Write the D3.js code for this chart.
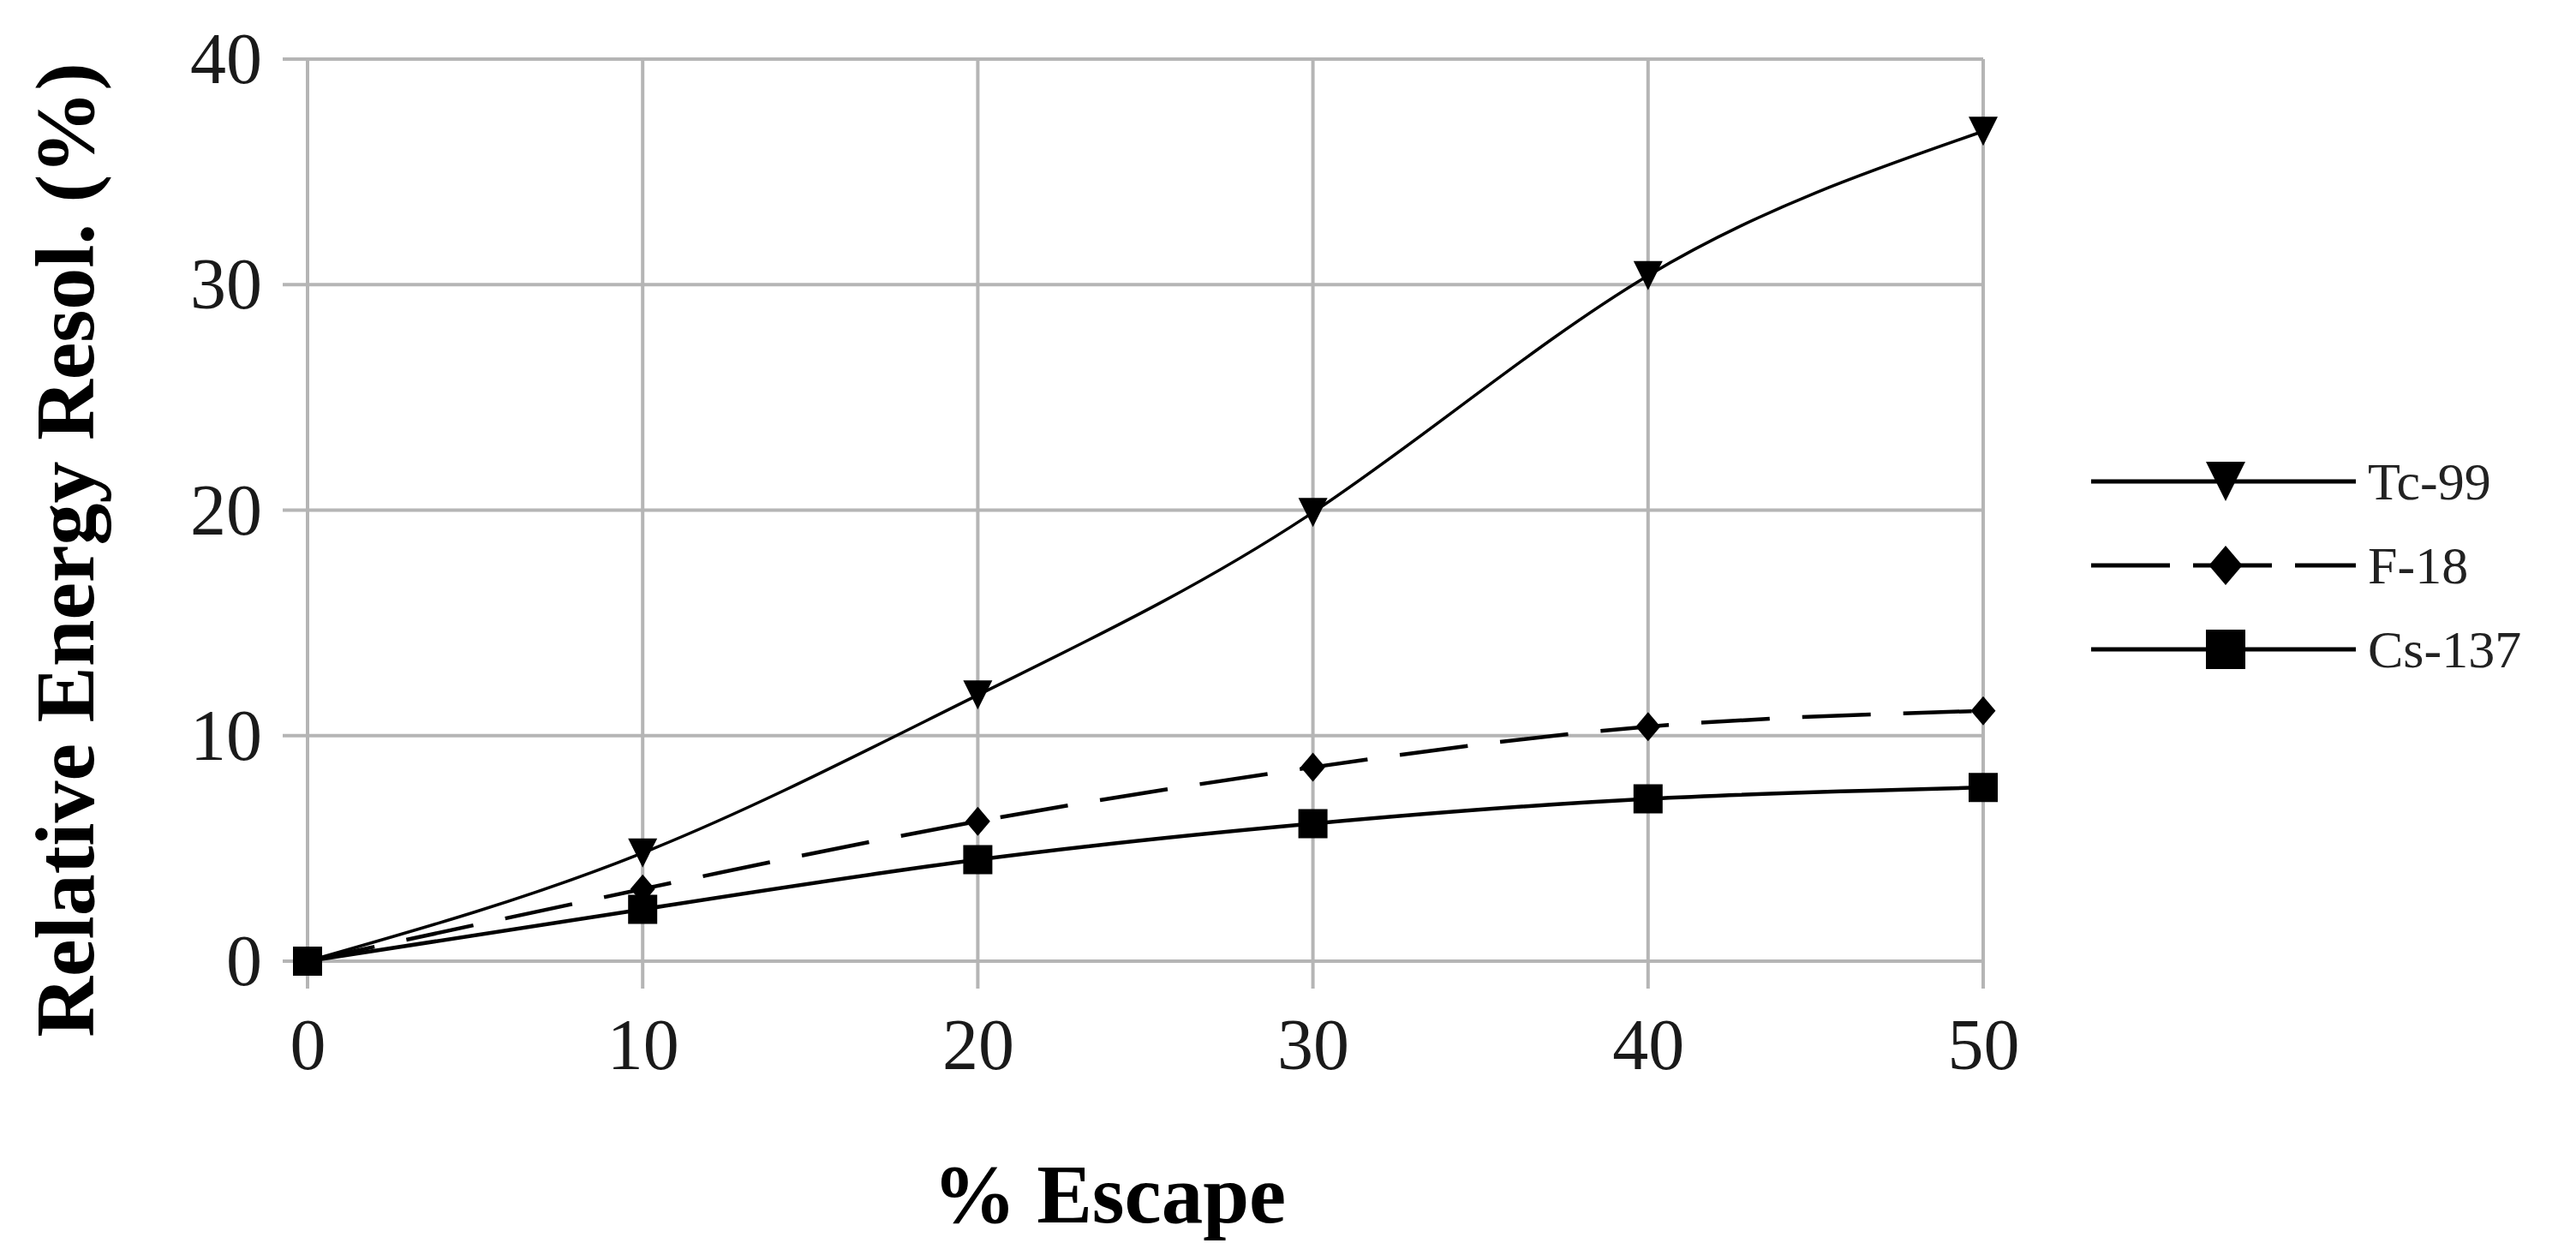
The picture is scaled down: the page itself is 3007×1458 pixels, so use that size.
<!DOCTYPE html>
<html>
<head>
<meta charset="utf-8">
<script src="https://cdn.jsdelivr.net/npm/d3@7"></script>
<style>
  html, body { margin: 0; padding: 0; background: #fff; }
  svg { display: block; }
</style>
</head>
<body>
<svg id="chart" width="3007" height="1458"></svg>
<script>
// ---- data ----
const escape = [0, 10, 20, 30, 40, 50];
const tc99 = [0, 4.8, 11.8, 19.9, 30.4, 36.8];
const f18 = [0, 3.2, 6.2, 8.6, 10.4, 11.1];
const cs137 = [0, 2.3, 4.5, 6.1, 7.2, 7.7];
const seriesNames = ["Tc-99", "F-18", "Cs-137"];
const xTicks = [0, 10, 20, 30, 40, 50];
const yTicks = [0, 10, 20, 30, 40];
const xTitle = "% Escape";
const yTitle = "Relative Energy Resol. (%)";

(function () {
// ---- layout ----
const svg = d3.select("#chart");
const pLeft = 359, pRight = 2315, pTop = 69, pBottom = 1122;
const x = d3.scaleLinear().domain([0, 50]).range([pLeft, pRight]);
const y = d3.scaleLinear().domain([0, 40]).range([pBottom, pTop]);
const gridColor = "#b5b5b5";
const serif = "'Liberation Serif', 'Times New Roman', serif";

// grid lines + outer ticks
const grid = svg.append("g");
grid.selectAll("line.h").data(yTicks).join("line")
  .attr("class", "h")
  .attr("x1", pLeft - 29).attr("x2", pRight)
  .attr("y1", d => y(d)).attr("y2", d => y(d))
  .attr("stroke", gridColor).attr("stroke-width", 4);
grid.selectAll("line.v").data(xTicks).join("line")
  .attr("class", "v")
  .attr("x1", d => x(d)).attr("x2", d => x(d))
  .attr("y1", pTop).attr("y2", pBottom + 32)
  .attr("stroke", gridColor).attr("stroke-width", 4);

// tick labels via axes (no domain/tick lines)
const tickFont = 84;
const xAxis = svg.append("g")
  .attr("transform", `translate(0,${pBottom})`)
  .call(d3.axisBottom(x).tickValues(xTicks).tickSize(0).tickPadding(0).tickFormat(d3.format("d")));
xAxis.select(".domain").remove();
xAxis.selectAll("text")
  .attr("y", 126).attr("dy", 0)
  .attr("font-family", serif).attr("font-size", tickFont).attr("fill", "#1a1a1a");

const yAxis = svg.append("g")
  .attr("transform", `translate(${pLeft},0)`)
  .call(d3.axisLeft(y).tickValues(yTicks).tickSize(0).tickPadding(0).tickFormat(d3.format("d")));
yAxis.select(".domain").remove();
yAxis.selectAll("text")
  .attr("x", -53).attr("dy", "0.33em")
  .attr("font-family", serif).attr("font-size", tickFont).attr("fill", "#1a1a1a");

// axis titles
svg.append("text")
  .attr("x", 1295).attr("y", 1427)
  .attr("text-anchor", "middle")
  .attr("font-family", serif).attr("font-weight", "bold").attr("font-size", 97)
  .attr("fill", "#000")
  .text(xTitle);
svg.append("text")
  .attr("transform", `translate(109,${642}) rotate(-90)`)
  .attr("text-anchor", "middle")
  .attr("font-family", serif).attr("font-weight", "bold").attr("font-size", 98)
  .attr("fill", "#000")
  .text(yTitle);

// ---- series ----
const series = [
  { name: seriesNames[0], values: tc99, dash: null, width: 3.5, marker: "triangle" },
  { name: seriesNames[1], values: f18, dash: "80,38", width: 4.5, marker: "diamond" },
  { name: seriesNames[2], values: cs137, dash: null, width: 4.5, marker: "square" }
];

const line = d3.line().x(d => x(d[0])).y(d => y(d[1])).curve(d3.curveNatural);

function markerPath(type, s) {
  const h = s / 2;
  if (type === "triangle") return `M${-h},${-h}L${h},${-h}L0,${h}Z`;
  if (type === "diamond") return `M0,${-h}L${h * 0.85},0L0,${h}L${-h * 0.85},0Z`;
  return `M${-h},${-h}L${h},${-h}L${h},${h}L${-h},${h}Z`;
}

series.forEach(s => {
  const pts = escape.map((e, i) => [e, s.values[i]]);
  svg.append("path")
    .attr("d", line(pts))
    .attr("fill", "none").attr("stroke", "#000")
    .attr("stroke-width", s.width)
    .attr("stroke-dasharray", s.dash);
  svg.append("g").selectAll("path").data(pts).join("path")
    .attr("transform", d => `translate(${x(d[0])},${y(d[1])})`)
    .attr("d", markerPath(s.marker, 34))
    .attr("fill", "#000");
});

// ---- legend ----
const legend = svg.append("g");
const rowY = [562, 660, 758];
series.forEach((s, i) => {
  const g = legend.append("g").attr("transform", `translate(0,${rowY[i]})`);
  g.append("line")
    .attr("x1", 2441).attr("x2", 2750).attr("y1", 0).attr("y2", 0)
    .attr("stroke", "#000").attr("stroke-width", 5)
    .attr("stroke-dasharray", s.dash ? "92,27" : null);
  g.append("path")
    .attr("transform", "translate(2598,0)")
    .attr("d", markerPath(s.marker, 46))
    .attr("fill", "#000");
  g.append("text")
    .attr("x", 2764).attr("y", 0).attr("dy", "0.34em")
    .attr("font-family", serif).attr("font-size", 62).attr("fill", "#222")
    .text(s.name);
});
})();
</script>
</body>
</html>
